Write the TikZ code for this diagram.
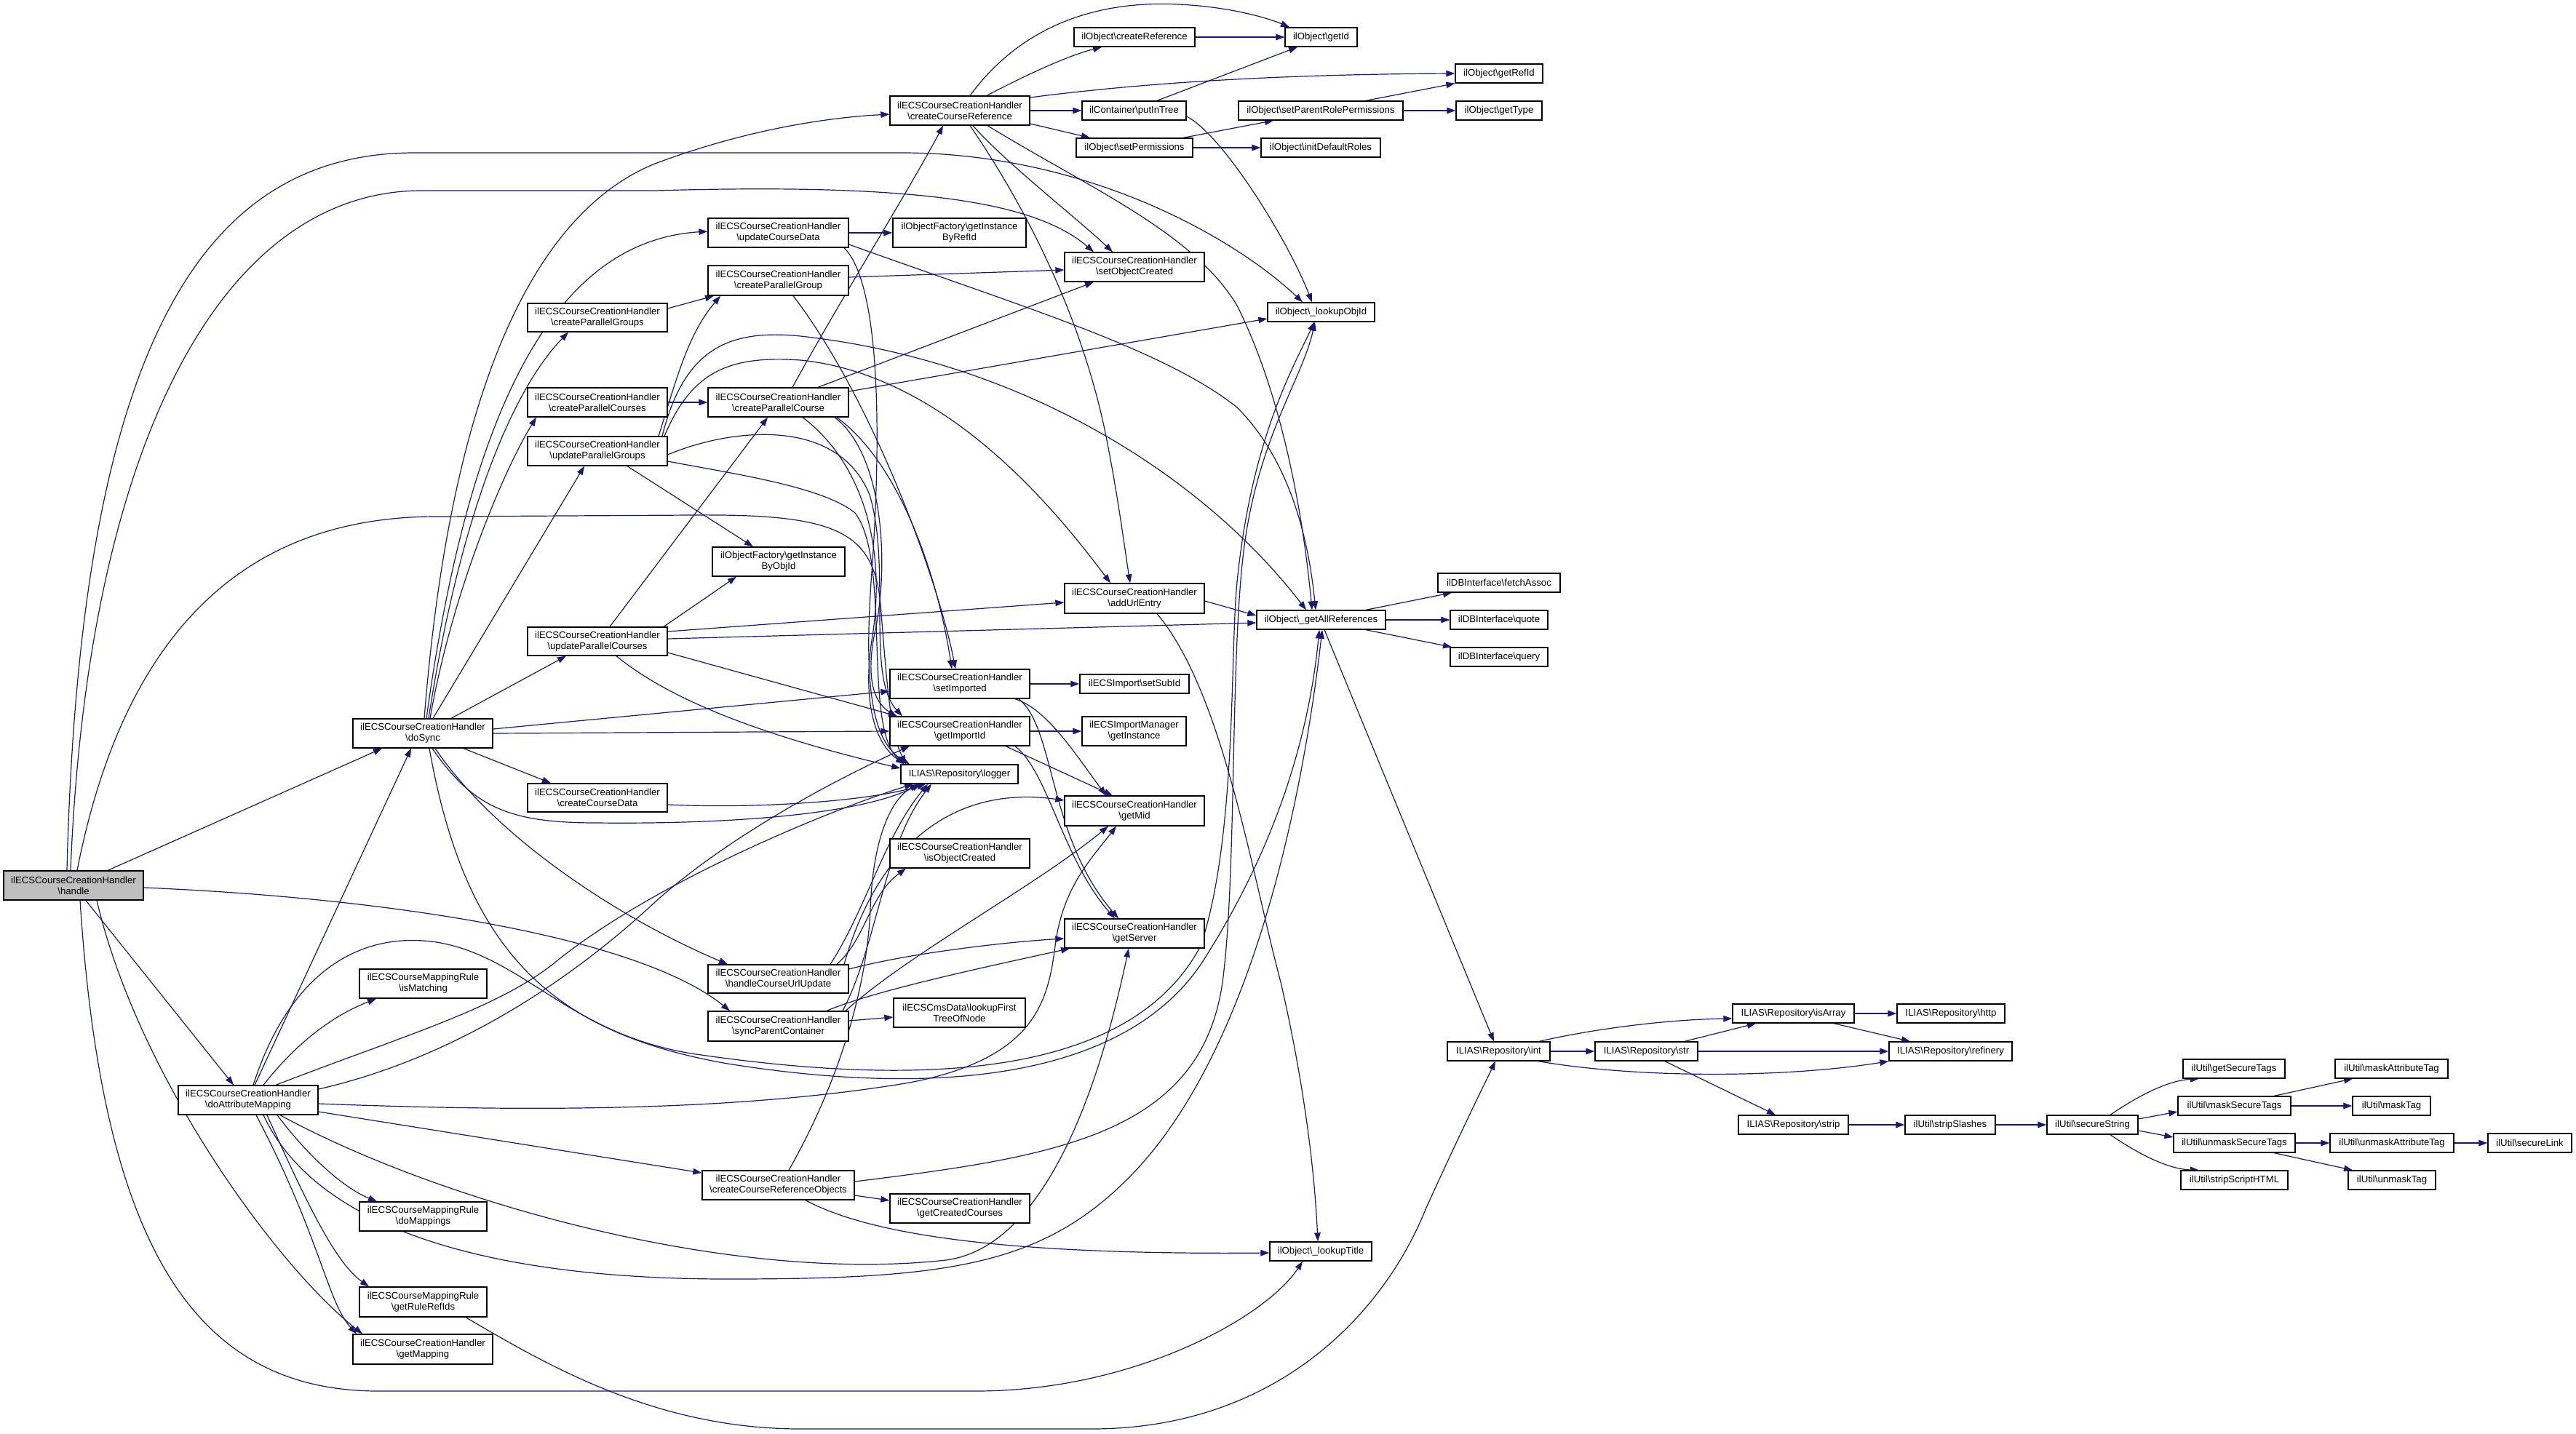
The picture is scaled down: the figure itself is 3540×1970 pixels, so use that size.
\documentclass[tikz,border=0pt]{standalone}
\usepackage{fontspec}
\setmainfont{Liberation Sans}
\usetikzlibrary{arrows.meta,backgrounds}
\definecolor{edgecol}{HTML}{191970}
\definecolor{hfill}{HTML}{BFBFBF}
\newcommand{\bsl}{\textbackslash}
\newcommand{\mynode}[6]{\node[box,minimum width={(#4-#2)*1pt},minimum height={(#5-#3)*1pt}] (#1) at ({(#2+#4)/2},{(#3+#5)/2}) {#6};}
\begin{document}
\begin{tikzpicture}[x=1pt,y=-1pt,
  box/.style={draw=black,line width=1.3pt,fill=white,inner sep=0pt,align=center,font=\fontsize{13.2pt}{15pt}\selectfont},
  e/.style={draw=edgecol,line width=1.2pt,-{Triangle[length=12pt,width=8.5pt]}}]
\useasboundingbox (0,0) rectangle (3540,1970);
% ---------------- nodes ----------------
\node[box,fill=hfill,minimum width=192pt,minimum height=40pt] (handle) at (101,1217) {ilECSCourseCreationHandler\\\bsl handle};
\mynode{doSync}{485}{988}{677}{1028}{ilECSCourseCreationHandler\\\bsl doSync}
\mynode{dam}{245}{1492}{437}{1532}{ilECSCourseCreationHandler\\\bsl doAttributeMapping}
\mynode{cpgs}{725}{417}{917}{456}{ilECSCourseCreationHandler\\\bsl createParallelGroups}
\mynode{cpcs}{725}{533}{917}{573}{ilECSCourseCreationHandler\\\bsl createParallelCourses}
\mynode{upg}{725}{600}{917}{640}{ilECSCourseCreationHandler\\\bsl updateParallelGroups}
\mynode{upc}{725}{862}{917}{901}{ilECSCourseCreationHandler\\\bsl updateParallelCourses}
\mynode{ccd}{725}{1077}{917}{1116}{ilECSCourseCreationHandler\\\bsl createCourseData}
\mynode{hcu}{973}{1326}{1166}{1365}{ilECSCourseCreationHandler\\\bsl handleCourseUrlUpdate}
\mynode{spc}{973}{1390}{1166}{1431}{ilECSCourseCreationHandler\\\bsl syncParentContainer}
\mynode{cro}{965}{1609}{1174}{1649}{ilECSCourseCreationHandler\\\bsl createCourseReferenceObjects}
\mynode{ism}{494}{1332}{669}{1372}{ilECSCourseMappingRule\\\bsl isMatching}
\mynode{dmap}{494}{1652}{669}{1692}{ilECSCourseMappingRule\\\bsl doMappings}
\mynode{grr}{494}{1769}{669}{1810}{ilECSCourseMappingRule\\\bsl getRuleRefIds}
\mynode{gmap}{485}{1834}{677}{1875}{ilECSCourseCreationHandler\\\bsl getMapping}
\mynode{ccr}{1223}{132}{1415}{172}{ilECSCourseCreationHandler\\\bsl createCourseReference}
\mynode{ucd}{973}{300}{1166}{340}{ilECSCourseCreationHandler\\\bsl updateCourseData}
\mynode{cpg}{973}{365}{1166}{406}{ilECSCourseCreationHandler\\\bsl createParallelGroup}
\mynode{cpc}{973}{533}{1166}{573}{ilECSCourseCreationHandler\\\bsl createParallelCourse}
\mynode{gibr}{1227}{300}{1410}{340}{ilObjectFactory\bsl getInstance\\ByRefId}
\mynode{gibo}{979}{752}{1161}{792}{ilObjectFactory\bsl getInstance\\ByObjId}
\mynode{simp}{1223}{920}{1415}{960}{ilECSCourseCreationHandler\\\bsl setImported}
\mynode{gid}{1223}{985}{1415}{1025}{ilECSCourseCreationHandler\\\bsl getImportId}
\mynode{logger}{1238}{1051}{1399}{1077}{ILIAS\bsl Repository\bsl logger}
\mynode{ioc}{1223}{1153}{1415}{1193}{ilECSCourseCreationHandler\\\bsl isObjectCreated}
\mynode{lft}{1228}{1372}{1409}{1412}{ilECSCmsData\bsl lookupFirst\\TreeOfNode}
\mynode{gcc}{1223}{1641}{1415}{1681}{ilECSCourseCreationHandler\\\bsl getCreatedCourses}
\mynode{cref}{1476}{38}{1642}{64}{ilObject\bsl createReference}
\mynode{pit}{1487}{139}{1630}{165}{ilContainer\bsl putInTree}
\mynode{sperm}{1479}{190}{1639}{216}{ilObject\bsl setPermissions}
\mynode{soc}{1463}{347}{1655}{387}{ilECSCourseCreationHandler\\\bsl setObjectCreated}
\mynode{aue}{1463}{802}{1655}{843}{ilECSCourseCreationHandler\\\bsl addUrlEntry}
\mynode{ssub}{1484}{927}{1634}{953}{ilECSImport\bsl setSubId}
\mynode{gi}{1487}{985}{1630}{1025}{ilECSImportManager\\\bsl getInstance}
\mynode{gmid}{1463}{1094}{1655}{1135}{ilECSCourseCreationHandler\\\bsl getMid}
\mynode{gsrv}{1463}{1263}{1655}{1303}{ilECSCourseCreationHandler\\\bsl getServer}
\mynode{getId}{1766}{38}{1865}{64}{ilObject\bsl getId}
\mynode{getRefId}{2000}{88}{2120}{114}{ilObject\bsl getRefId}
\mynode{sprp}{1702}{139}{1928}{165}{ilObject\bsl setParentRolePermissions}
\mynode{getType}{2001}{139}{2119}{165}{ilObject\bsl getType}
\mynode{idr}{1733}{190}{1897}{216}{ilObject\bsl initDefaultRoles}
\mynode{loid}{1742}{416}{1889}{442}{ilObject\bsl\_lookupObjId}
\mynode{gar}{1727}{839}{1904}{865}{ilObject\bsl\_getAllReferences}
\mynode{lt}{1745}{1707}{1885}{1733}{ilObject\bsl\_lookupTitle}
\mynode{fetch}{1976}{788}{2144}{814}{ilDBInterface\bsl fetchAssoc}
\mynode{quote}{1993}{839}{2127}{865}{ilDBInterface\bsl quote}
\mynode{query}{1993}{890}{2127}{916}{ilDBInterface\bsl query}
\mynode{int}{1989}{1432}{2130}{1458}{ILIAS\bsl Repository\bsl int}
\mynode{str}{2192}{1432}{2333}{1458}{ILIAS\bsl Repository\bsl str}
\mynode{isArray}{2381}{1380}{2548}{1406}{ILIAS\bsl Repository\bsl isArray}
\mynode{http}{2607}{1380}{2755}{1406}{ILIAS\bsl Repository\bsl http}
\mynode{refinery}{2596}{1432}{2765}{1458}{ILIAS\bsl Repository\bsl refinery}
\mynode{strip}{2389}{1533}{2540}{1559}{ILIAS\bsl Repository\bsl strip}
\mynode{sslash}{2618}{1533}{2742}{1559}{ilUtil\bsl stripSlashes}
\mynode{sstr}{2813}{1533}{2938}{1559}{ilUtil\bsl secureString}
\mynode{gst}{3000}{1456}{3140}{1482}{ilUtil\bsl getSecureTags}
\mynode{mst}{2993}{1507}{3148}{1533}{ilUtil\bsl maskSecureTags}
\mynode{ust}{2987}{1558}{3154}{1584}{ilUtil\bsl unmaskSecureTags}
\mynode{ssh}{2997}{1609}{3144}{1635}{ilUtil\bsl stripScriptHTML}
\mynode{mat}{3209}{1456}{3364}{1482}{ilUtil\bsl maskAttributeTag}
\mynode{mtag}{3233}{1507}{3340}{1533}{ilUtil\bsl maskTag}
\mynode{uat}{3202}{1558}{3372}{1584}{ilUtil\bsl unmaskAttributeTag}
\mynode{utag}{3227}{1609}{3347}{1635}{ilUtil\bsl unmaskTag}
\mynode{slink}{3419}{1558}{3534}{1584}{ilUtil\bsl secureLink}
% ---------------- edges ----------------
\begin{scope}[on background layer]
\fill[white] (0,0) rectangle (3540,1970);
% handle
\draw[e] (handle.north -| 148,0) -- (doSync.south -| 525,0);
\draw[e] (handle.south -| 118,0) -- (dam.north -| 321,0);
\draw[e] (handle.south -| 133,0) .. controls (190,1480) and (380,1740) .. (gmap.north -| 498,0);
\draw[e] (handle.south -| 110,0) .. controls (140,1700) and (260,1912) .. (520,1912) -- (1340,1912) .. controls (1560,1912) and (1740,1810) .. (lt.south -| 1790,0);
\draw[e] (handle.east |- 0,1220) .. controls (550,1235) and (880,1290) .. (spc.north -| 1003,0);
\draw[e] (handle.north -| 106,0) .. controls (180,820) and (380,710) .. (600,710) -- (950,708) .. controls (1150,706) and (1200,730) .. (1210,830) .. controls (1220,960) and (1225,1010) .. (logger.north -| 1245,0);
\draw[e] (handle.north -| 97,0) .. controls (120,620) and (300,262) .. (580,262) -- (900,262) .. controls (1250,252) and (1420,275) .. (soc.north -| 1503,0);
\draw[e] (handle.north -| 92,0) .. controls (110,470) and (280,210) .. (570,210) -- (1244,210) .. controls (1500,212) and (1700,330) .. (loid.north -| 1790,0);
% doSync
\draw[e] (doSync.north -| 583,0) .. controls (620,520) and (740,290) .. (900,225) .. controls (1020,180) and (1130,162) .. (ccr.west |- 0,157);
\draw[e] (doSync.north -| 586,0) .. controls (650,520) and (780,330) .. (ucd.west |- 0,318);
\draw[e] (doSync.north -| 589,0) .. controls (630,720) and (700,540) .. (cpgs.south -| 781,0);
\draw[e] (doSync.north -| 591,0) .. controls (620,820) and (690,650) .. (cpcs.south -| 737,0);
\draw[e] (doSync.north -| 595,0) -- (upg.south -| 803,0);
\draw[e] (doSync.north -| 620,0) -- (upc.south -| 778,0);
\draw[e] (doSync.east |- 0,1002) -- (simp.west |- 0,950);
\draw[e] (doSync.east |- 0,1008) -- (gid.west |- 0,1005);
\draw[e] (doSync.south -| 637,0) -- (ccd.north -| 757,0);
\draw[e] (doSync.south -| 594,0) .. controls (650,1110) and (700,1131) .. (820,1131) .. controls (1000,1133) and (1180,1120) .. (logger.south -| 1265,0);
\draw[e] (doSync.south -| 598,0) .. controls (680,1150) and (850,1262) .. (hcu.north -| 1000,0);
\draw[e] (doSync.south -| 590,0) .. controls (640,1310) and (760,1420) .. (1000,1462) .. controls (1300,1510) and (1560,1480) .. (1660,1310) .. controls (1760,1150) and (1800,1000) .. (gar.south -| 1813,0);
% doAttributeMapping
\draw[e] (dam.north -| 350,0) -- (doSync.south -| 565,0);
\draw[e] (dam.north -| 362,0) .. controls (410,1430) and (460,1395) .. (ism.south -| 517,0);
\draw[e] (dam.south -| 381,0) .. controls (420,1585) and (470,1632) .. (dmap.north -| 518,0);
\draw[e] (dam.south -| 367,0) .. controls (420,1650) and (460,1735) .. (grr.north -| 507,0);
\draw[e] (dam.south -| 352,0) .. controls (440,1700) and (450,1790) .. (gmap.north -| 490,0);
\draw[e] (dam.east |- 0,1528) -- (cro.west |- 0,1612);
\draw[e] (dam.north -| 379,0) .. controls (550,1425) and (680,1388) .. (760,1325) .. controls (900,1210) and (1150,1110) .. (logger.south -| 1255,0);
\draw[e] (dam.east |- 0,1497) .. controls (600,1460) and (760,1370) .. (900,1240) .. controls (1000,1150) and (1150,1070) .. (gid.south -| 1250,0);
\draw[e] (dam.east |- 0,1517) .. controls (700,1527) and (1000,1530) .. (1250,1488) .. controls (1420,1455) and (1440,1380) .. (1450,1300) .. controls (1460,1220) and (1500,1180) .. (gmid.south -| 1534,0);
\draw[e] (dam.south -| 385,0) .. controls (600,1650) and (1000,1765) .. (1300,1732) .. controls (1450,1712) and (1520,1450) .. (gsrv.south -| 1551,0);
\draw[e] (dam.south -| 362,0) .. controls (440,1700) and (700,1758) .. (1000,1758) .. controls (1300,1758) and (1430,1740) .. (1550,1620) .. controls (1720,1450) and (1790,1100) .. (gar.south -| 1817,0);
\draw[e] (dam.north -| 348,0) .. controls (400,1330) and (500,1280) .. (600,1295) .. controls (720,1315) and (780,1420) .. (950,1448) .. controls (1300,1500) and (1560,1470) .. (1650,1300) .. controls (1700,1150) and (1690,900) .. (1700,800) .. controls (1720,600) and (1780,500) .. (loid.south -| 1806,0);
% group / course creators
\draw[e] (cpgs.east |- 0,424) -- (cpg.south -| 981,0);
\draw[e] (cpcs.east) -- (cpc.west);
\draw[e] (upg.north -| 905,0) .. controls (930,520) and (945,460) .. (cpg.south -| 990,0);
\draw[e] (upg.north -| 910,0) .. controls (940,480) and (1000,452) .. (1100,462) .. controls (1400,495) and (1650,650) .. (gar.north -| 1795,0);
\draw[e] (upg.north -| 913,0) .. controls (950,512) and (1000,488) .. (1100,495) .. controls (1300,515) and (1450,700) .. (aue.north -| 1526,0);
\draw[e] (upg.south -| 862,0) -- (gibo.north -| 1035,0);
\draw[e] (upg.east |- 0,625) .. controls (1000,590) and (1150,570) .. (1195,680) .. controls (1225,780) and (1190,930) .. (gid.north -| 1240,0);
\draw[e] (upg.east |- 0,634) .. controls (1000,650) and (1130,668) .. (1175,705) .. controls (1225,770) and (1185,1000) .. (logger.north -| 1243,0);
\draw[e] (upc.north -| 838,0) -- (cpc.south -| 1055,0);
\draw[e] (upc.north -| 912,0) -- (gibo.south -| 1012,0);
\draw[e] (upc.east |- 0,868) -- (aue.west |- 0,828);
\draw[e] (upc.east |- 0,878) -- (gar.west |- 0,856);
\draw[e] (upc.east |- 0,897) -- (gid.north -| 1233,0);
\draw[e] (upc.south -| 847,0) .. controls (900,945) and (1000,1000) .. (logger.west |- 0,1056);
\draw[e] (ccd.east |- 0,1106) .. controls (1050,1112) and (1200,1100) .. (logger.south -| 1272,0);
% updateCourseData
\draw[e] (ucd.east) -- (gibr.west);
\draw[e] (ucd.east |- 0,336) .. controls (1400,420) and (1600,480) .. (1700,560) .. controls (1780,640) and (1800,760) .. (gar.north -| 1808,0);
\draw[e] (ucd.south -| 1160,0) .. controls (1210,390) and (1212,600) .. (1197,800) .. controls (1187,950) and (1200,1020) .. (logger.north -| 1250,0);
% createParallelGroup
\draw[e] (cpg.east |- 0,381) -- (soc.west |- 0,371);
\draw[e] (cpg.south -| 1090,0) .. controls (1200,550) and (1290,800) .. (simp.north -| 1313,0);
% createParallelCourse
\draw[e] (cpc.north -| 1089,0) .. controls (1150,420) and (1250,260) .. (ccr.south -| 1296,0);
\draw[e] (cpc.north -| 1124,0) -- (soc.south -| 1503,0);
\draw[e] (cpc.east |- 0,538) -- (loid.west |- 0,438);
\draw[e] (cpc.south -| 1150,0) .. controls (1240,640) and (1290,800) .. (simp.north -| 1308,0);
\draw[e] (cpc.south -| 1147,0) .. controls (1215,625) and (1222,780) .. (1202,870) .. controls (1190,930) and (1200,965) .. (gid.north -| 1232,0);
\draw[e] (cpc.south -| 1103,0) .. controls (1190,640) and (1218,760) .. (1198,880) .. controls (1186,960) and (1200,1020) .. (logger.north -| 1243,0);
% setImported / getImportId
\draw[e] (simp.east) -- (ssub.west);
\draw[e] (simp.south -| 1395,0) .. controls (1440,975) and (1480,1040) .. (gmid.north -| 1520,0);
\draw[e] (simp.south -| 1400,0) .. controls (1450,1000) and (1440,1150) .. (gsrv.north -| 1537,0);
\draw[e] (gid.east) -- (gi.west);
\draw[e] (gid.south -| 1382,0) -- (gmid.north -| 1529,0);
\draw[e] (gid.south -| 1395,0) .. controls (1440,1060) and (1460,1180) .. (gsrv.north -| 1532,0);
% handleCourseUrlUpdate
\draw[e] (hcu.north -| 1141,0) .. controls (1190,1250) and (1215,1150) .. (logger.south -| 1275,0);
\draw[e] (hcu.north -| 1150,0) .. controls (1190,1290) and (1195,1230) .. (ioc.south -| 1245,0);
\draw[e] (hcu.north -| 1160,0) .. controls (1210,1150) and (1320,1080) .. (gmid.west |- 0,1100);
\draw[e] (hcu.east |- 0,1332) .. controls (1250,1310) and (1380,1295) .. (gsrv.west |- 0,1290);
% syncParentContainer
\draw[e] (spc.east |- 0,1403) -- (lft.west |- 0,1398);
\draw[e] (spc.north -| 1158,0) .. controls (1205,1300) and (1215,1160) .. (logger.south -| 1280,0);
\draw[e] (spc.north -| 1136,0) .. controls (1200,1362) and (1350,1330) .. (gsrv.south -| 1470,0);
\draw[e] (spc.north -| 1162,0) .. controls (1250,1310) and (1420,1220) .. (gmid.south -| 1523,0);
% createCourseReferenceObjects
\draw[e] (cro.east |- 0,1643) -- (gcc.west |- 0,1650);
\draw[e] (cro.south -| 1107,0) .. controls (1200,1700) and (1400,1725) .. (lt.west |- 0,1722);
\draw[e] (cro.east |- 0,1624) .. controls (1450,1590) and (1650,1560) .. (1680,1350) .. controls (1700,1200) and (1690,900) .. (1710,750) .. controls (1730,600) and (1790,520) .. (loid.south -| 1807,0);
\draw[e] (cro.north -| 1084,0) .. controls (1140,1510) and (1190,1380) .. (1196,1250) .. controls (1200,1140) and (1230,1095) .. (logger.south -| 1262,0);
% getRuleRefIds
\draw[e] (grr.south -| 640,0) .. controls (750,1875) and (900,1964) .. (1100,1964) -- (1500,1964) .. controls (1750,1964) and (1900,1810) .. (1960,1660) .. controls (2010,1550) and (2040,1490) .. (int.south -| 2055,0);
% createCourseReference
\draw[e] (ccr.north -| 1333,0) .. controls (1400,40) and (1500,0) .. (1620,6) .. controls (1700,10) and (1750,28) .. (getId.north -| 1772,0);
\draw[e] (ccr.north -| 1356,0) .. controls (1420,98) and (1470,76) .. (cref.south -| 1514,0);
\draw[e] (ccr.east |- 0,134) .. controls (1600,110) and (1800,102) .. (getRefId.west);
\draw[e] (ccr.east) -- (pit.west);
\draw[e] (ccr.east |- 0,170) -- (sperm.north -| 1498,0);
\draw[e] (ccr.south -| 1337,0) .. controls (1380,222) and (1480,300) .. (soc.north -| 1529,0);
\draw[e] (ccr.south -| 1333,0) .. controls (1420,300) and (1490,450) .. (1520,600) .. controls (1536,680) and (1545,750) .. (aue.north -| 1553,0);
\draw[e] (ccr.south -| 1357,0) .. controls (1500,260) and (1640,320) .. (1700,420) .. controls (1760,540) and (1790,700) .. (gar.north -| 1803,0);
% ilObject chain
\draw[e] (cref.east) -- (getId.west);
\draw[e] (pit.north -| 1590,0) -- (getId.south -| 1783,0);
\draw[e] (pit.east |- 0,160) .. controls (1680,185) and (1770,330) .. (loid.north -| 1803,0);
\draw[e] (sperm.north -| 1626,0) -- (sprp.south -| 1750,0);
\draw[e] (sperm.east) -- (idr.west);
\draw[e] (sprp.north -| 1877,0) -- (getRefId.south west);
\draw[e] (sprp.east) -- (getType.west);
\draw[e] (aue.east |- 0,826) -- (gar.west |- 0,846);
\draw[e] (aue.south -| 1590,0) .. controls (1680,950) and (1720,1200) .. (1760,1350) .. controls (1790,1480) and (1806,1600) .. (lt.north -| 1811,0);
\draw[e] (gar.north -| 1877,0) -- (fetch.south -| 1995,0);
\draw[e] (gar.east) -- (quote.west);
\draw[e] (gar.south -| 1877,0) -- (query.north -| 1995,0);
\draw[e] (gar.south -| 1820,0) -- (int.north -| 2053,0);
% ILIAS Repository
\draw[e] (int.north -| 2115,0) .. controls (2200,1412) and (2300,1401) .. (isArray.west |- 0,1400);
\draw[e] (int.east) -- (str.west);
\draw[e] (int.south -| 2114,0) .. controls (2250,1482) and (2450,1482) .. (refinery.south west);
\draw[e] (str.north -| 2315,0) -- (isArray.south -| 2413,0);
\draw[e] (str.east) -- (refinery.west);
\draw[e] (str.south -| 2288,0) -- (strip.north -| 2440,0);
\draw[e] (isArray.east) -- (http.west);
\draw[e] (isArray.south -| 2520,0) -- (refinery.north -| 2625,0);
\draw[e] (strip.east) -- (sslash.west);
\draw[e] (sslash.east) -- (sstr.west);
% ilUtil
\draw[e] (sstr.north -| 2900,0) .. controls (2940,1505) and (2980,1485) .. (gst.south -| 3022,0);
\draw[e] (sstr.east |- 0,1538) -- (mst.west |- 0,1528);
\draw[e] (sstr.east |- 0,1554) -- (ust.west |- 0,1563);
\draw[e] (sstr.south -| 2900,0) .. controls (2940,1587) and (2980,1607) .. (ssh.north -| 3022,0);
\draw[e] (mst.north -| 3125,0) -- (mat.south -| 3233,0);
\draw[e] (mst.east) -- (mtag.west);
\draw[e] (ust.east) -- (uat.west);
\draw[e] (ust.south -| 3125,0) -- (utag.north -| 3233,0);
\draw[e] (uat.east) -- (slink.west);
\end{scope}
\end{tikzpicture}
\end{document}
